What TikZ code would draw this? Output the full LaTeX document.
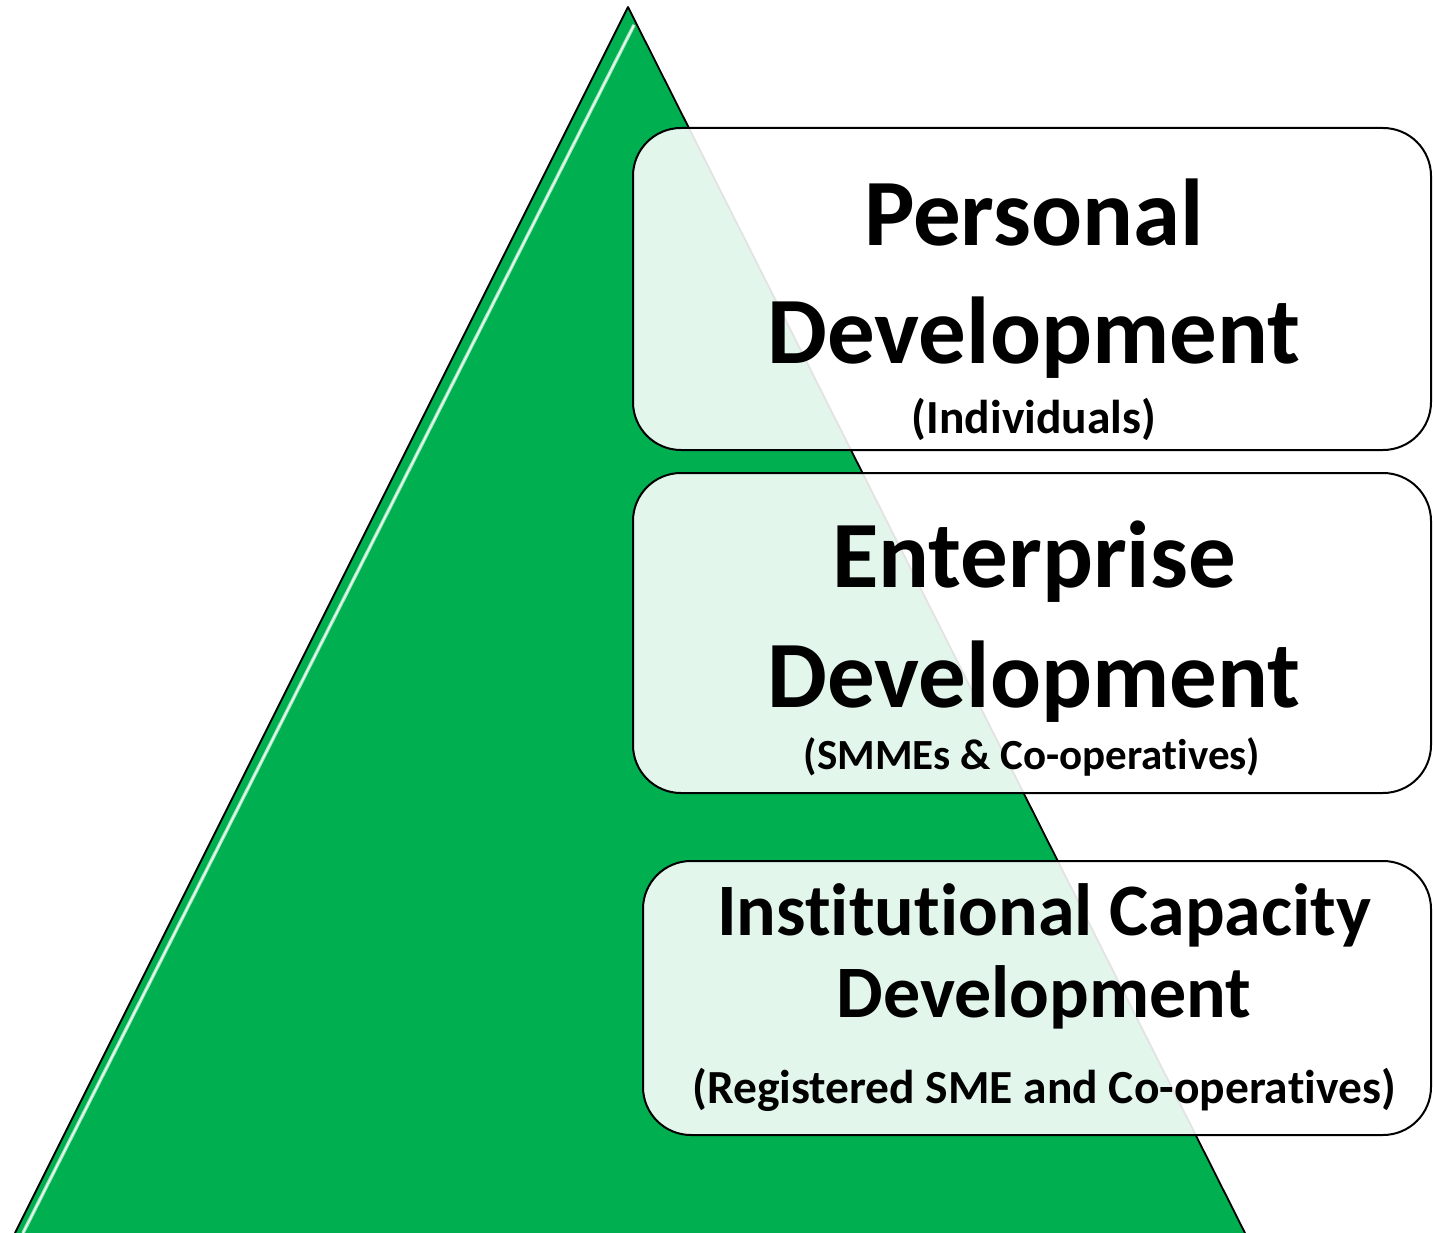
\documentclass[tikz,border=0pt]{standalone}
\usepackage{fontspec}
\setmainfont{Carlito}[Ligatures={NoCommon,NoRequired,NoContextual},RawFeature={-liga;-dlig;-calt}]
\newcommand{\nolig}{\kern0pt }
\definecolor{pyrgreen}{RGB}{0,176,80}
\definecolor{hilite}{RGB}{200,245,215}
\tikzset{
  layerbox/.style={draw=black, line width=2pt, fill=white, fill opacity=0.89,
    rounded corners=48pt, inner sep=0pt},
  bigtxt/.style={anchor=base, inner sep=0pt, font=\fontsize{95}{114}\selectfont\bfseries},
  midtxt/.style={anchor=base, inner sep=0pt, font=\fontsize{74}{88}\selectfont\bfseries},
  smalltxt/.style={anchor=base, inner sep=0pt, font=\fontsize{47.5}{57}\selectfont\bfseries}
}
\begin{document}
\begin{tikzpicture}[x=1pt,y=-1pt]
\useasboundingbox (0,0) rectangle (1433,1233);
% pyramid
\coordinate (apex) at (628,7);
\coordinate (bl) at (15,1233);
\coordinate (br) at (1245,1233);
\fill[pyrgreen] (apex) -- (br) -- (bl) -- cycle;
\draw[hilite, line width=3.5pt, opacity=0.8] ([xshift=6pt]628,25) -- ([xshift=6pt]17,1233);
\draw[white, line width=1.2pt, opacity=0.9] ([xshift=6pt]628,25) -- ([xshift=6pt]17,1233);
\draw[black, line width=1.8pt, line join=round] (bl) -- (apex) -- (br);
% boxes
\node[layerbox, minimum width=798pt, minimum height=322pt] (box1) at (1032,289) {};
\node[layerbox, minimum width=798pt, minimum height=320pt] (box2) at (1032,633) {};
\node[layerbox, minimum width=788pt, minimum height=274pt] (box3) at (1037,998) {};
% texts
\node[bigtxt] (t1a) at (1034,246) {Personal};
\node[bigtxt] (t1b) at (1034,363) {Development};
\node[smalltxt] (t1c) at (1034,433) {(Individuals)};
\node[bigtxt] (t2a) at (1034,587) {Enterprise};
\node[bigtxt] (t2b) at (1034,707) {Development};
\node[smalltxt, font=\fontsize{43}{52}\selectfont\bfseries] (t2c) at (1032,769) {(SMMEs \& Co-operat\nolig ives)};
\node[midtxt] (t3a) at (1044,935) {Inst\nolig it\nolig ut\nolig ional Capacit\nolig y};
\node[midtxt] (t3b) at (1044,1017) {Development};
\node[smalltxt] (t3c) at (1044,1103) {(Registered SME and Co-operat\nolig ives)};
\end{tikzpicture}
\end{document}
